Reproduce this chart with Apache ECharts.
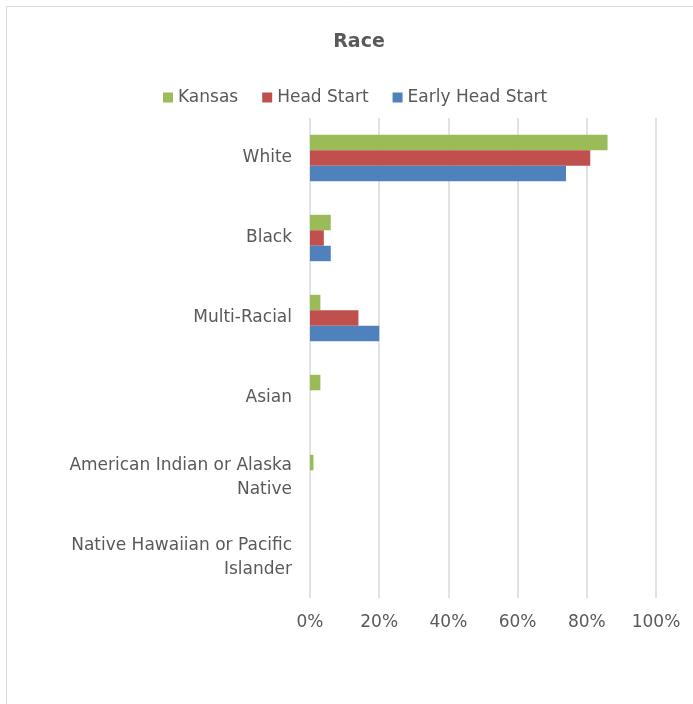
<!DOCTYPE html>
<html>
<head>
<meta charset="utf-8">
<script src="https://cdn.jsdelivr.net/npm/echarts@6/dist/echarts.min.js"></script>
<style>html,body{margin:0;padding:0;background:#fff;}#main{width:693px;height:704px;}</style>
</head>
<body>
<div id="main"></div>
<script>
const categories = ["White", "Black", "Multi-Racial", "Asian", "American Indian or Alaska\nNative", "Native Hawaiian or Pacific\nIslander"];
const seriesNames = ["Kansas", "Head Start", "Early Head Start"];
const kansas = [86, 6, 3, 3, 1, 0];
const headStart = [81, 4, 14, 0, 0, 0];
const earlyHeadStart = [74, 6, 20, 0, 0, 0];
const xTicks = [0, 20, 40, 60, 80, 100];
const colors = ["#9BBB59", "#C0504D", "#4F81BD"];

const chart = echarts.init(document.getElementById('main'));
const font = "DejaVu Sans";
const dataSets = [kansas, headStart, earlyHeadStart];
chart.setOption({
  animation: false,
  backgroundColor: '#fff',
  title: {
    text: 'Race', left: 354, textAlign: 'center', top: 28,
    textStyle: {fontFamily: font, fontSize: 19, fontWeight: 'bold', color: '#595959'}
  },
  legend: {
    top: 84, left: 158, itemWidth: 10, itemHeight: 10, itemGap: 24, icon: 'rect',
    textStyle: {fontFamily: font, fontSize: 17, color: '#595959'},
    data: seriesNames
  },
  graphic: [{type: 'rect', shape: {x: 6.5, y: 6.5, width: 700, height: 710}, style: {fill: 'none', stroke: '#d9d9d9', lineWidth: 1}}],
  grid: {left: 310, right: 37, top: 118, bottom: 106},
  xAxis: {
    type: 'value', min: xTicks[0], max: xTicks[xTicks.length - 1], interval: 20,
    axisLine: {show: false}, axisTick: {show: false},
    splitLine: {lineStyle: {color: '#d9d9d9', width: 1.5}},
    axisLabel: {formatter: '{value}%', fontFamily: font, fontSize: 17, color: '#595959', margin: 16}
  },
  yAxis: {
    type: 'category', inverse: true, data: categories,
    axisLine: {show: false}, axisTick: {show: false},
    axisLabel: {fontFamily: font, fontSize: 17, color: '#595959', margin: 18, align: 'right', lineHeight: 24, padding: [4, 0, 0, 0]}
  },
  series: seriesNames.map((n, i) => ({
    name: n, type: 'bar', data: dataSets[i], barGap: '0%', barCategoryGap: '42%',
    itemStyle: {color: colors[i]}
  }))
});
</script>
</body>
</html>
